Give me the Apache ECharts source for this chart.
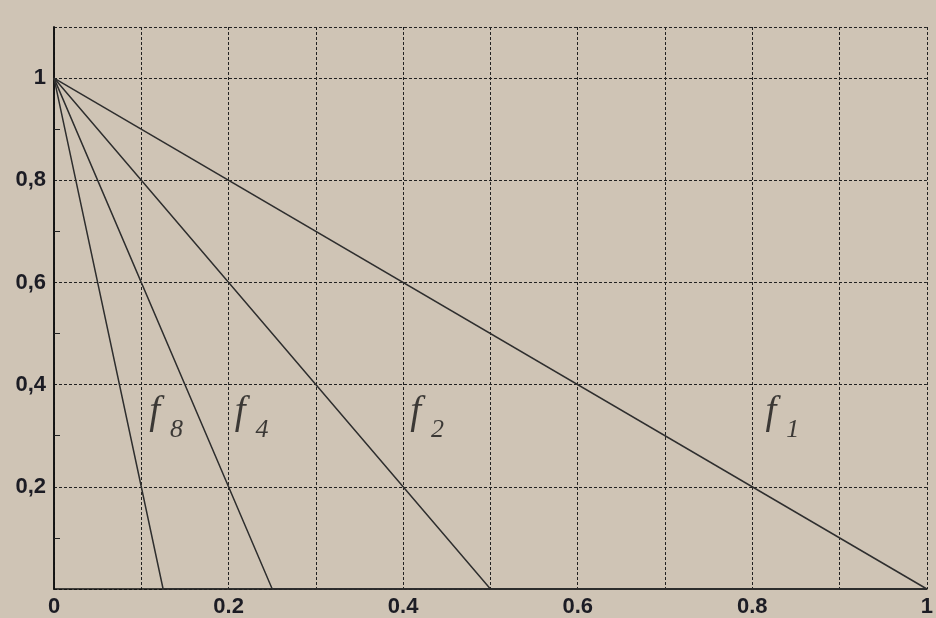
<!DOCTYPE html>
<html>
<head>
<meta charset="utf-8">
<script src="https://cdn.jsdelivr.net/npm/echarts@6/dist/echarts.min.js"></script>
<style>
  html, body { margin: 0; padding: 0; background: #cfc4b5; }
  #chart { width: 936px; height: 618px; }
</style>
</head>
<body>
<div id="chart"></div>
<script>
// Piecewise-linear functions f_n: from (0, 1) down to (1/n, 0), then zero up to x = 1
const seriesNames = ['f1', 'f2', 'f4', 'f8'];
const f1 = [[0, 1], [1, 0]];
const f2 = [[0, 1], [0.5, 0], [1, 0]];
const f4 = [[0, 1], [0.25, 0], [1, 0]];
const f8 = [[0, 1], [0.125, 0], [1, 0]];
const subscripts = ['1', '2', '4', '8'];
// Where each curve name is written (data coordinates)
const labelAnchors = [[0.815, 0.345], [0.408, 0.345], [0.207, 0.345], [0.109, 0.345]];
const xTickLabels = ['0', '0.2', '0.4', '0.6', '0.8', '1'];
const yTickLabels = ['0,2', '0,4', '0,6', '0,8', '1'];

const ink = '#1c1c24';
const lineColor = '#2e2e2e';
const frame = { color: '#111', width: 1.6 };
const dotted = { color: '#222', width: 1, type: [3, 2] };

const chart = echarts.init(document.getElementById('chart'), null, { renderer: 'canvas' });

const lineSeries = [f1, f2, f4, f8].map((d, i) => ({
  name: seriesNames[i],
  type: 'line',
  data: d,
  symbol: 'none',
  silent: true,
  lineStyle: { color: lineColor, width: 1.5 },
  z: 3
}));

const labelFont = { fontFamily: 'Liberation Serif', fontStyle: 'italic', color: '#151515' };
const labelSeries = {
  type: 'scatter',
  symbolSize: 0,
  silent: true,
  data: labelAnchors.map((p, i) => ({ value: p, sub: subscripts[i] })),
  label: {
    show: true,
    position: 'right',
    distance: 0,
    formatter: p => '{f|f}{s|' + p.data.sub + '}',
    rich: {
      f: Object.assign({ fontSize: 39, lineHeight: 60, verticalAlign: 'middle' }, labelFont),
      s: Object.assign({ fontSize: 26, lineHeight: 20, verticalAlign: 'bottom', padding: [0, 0, 0, 10] }, labelFont)
    }
  },
  z: 4
};

const fmtX = v => {
  const k = Math.round(v * 10);
  if (k % 2 !== 0) return '';
  return xTickLabels[k / 2];
};
const fmtY = v => {
  const k = Math.round(v * 10);
  if (k === 0 || k % 2 !== 0 || k > 10) return '';
  return yTickLabels[k / 2 - 1];
};

const tickFont = {
  color: ink,
  fontFamily: 'Liberation Sans',
  fontWeight: 'bold',
  fontSize: 22
};

chart.setOption({
  backgroundColor: '#cfc4b5',
  animation: false,
  grid: { left: 54, right: 4, top: 27, bottom: 29 },
  xAxis: [
    {
      type: 'value',
      min: 0, max: 1, interval: 0.1,
      axisLine: { show: false },
      axisTick: { show: false },
      axisLabel: Object.assign({ formatter: fmtX, margin: 7, showMaxLabel: true }, tickFont),
      splitLine: { show: true, lineStyle: dotted }
    },
    {
      // top frame edge
      type: 'value', position: 'top',
      min: 0, max: 1,
      axisLine: { show: true, lineStyle: frame },
      axisTick: { show: false }, axisLabel: { show: false }, splitLine: { show: false }
    }
  ],
  yAxis: [
    {
      type: 'value',
      min: 0, max: 1.1, interval: 0.2,
      axisLine: { show: true, onZero: false, lineStyle: frame },
      axisTick: { show: false, inside: true },
      minorTick: { show: true, splitNumber: 2, length: 6, lineStyle: { color: '#222', width: 1 } },
      axisLabel: Object.assign({ formatter: fmtY, margin: 8 }, tickFont),
      splitLine: { show: true, lineStyle: dotted }
    },
    {
      // right frame edge
      type: 'value', position: 'right',
      min: 0, max: 1.1,
      axisLine: { show: true, lineStyle: frame },
      axisTick: { show: false }, axisLabel: { show: false }, splitLine: { show: false }
    }
  ],
  series: [...lineSeries, labelSeries]
});
</script>
</body>
</html>
